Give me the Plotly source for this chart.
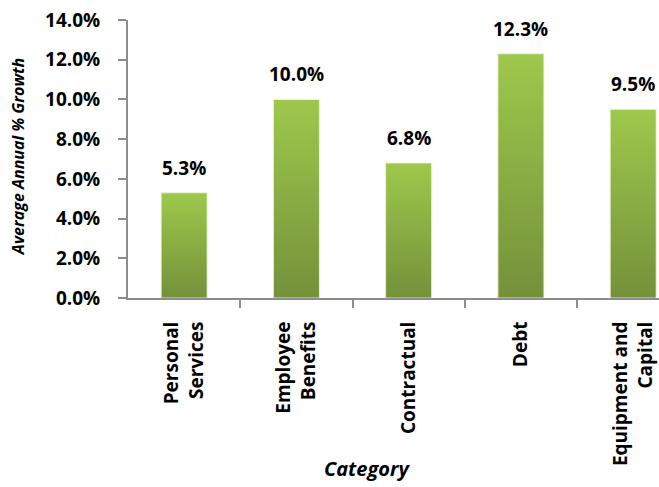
import plotly.graph_objects as go

# Average annual growth by spending category (percent)
categories = ["Personal<br>Services", "Employee<br>Benefits", "Contractual", "Debt", "Equipment and<br>Capital"]
growth = [5.3, 10.0, 6.8, 12.3, 9.5]
y_ticks = [0, 2, 4, 6, 8, 10, 12, 14]

FONT = "Open Sans"
BAR_TOP = "#9ec84c"
BAR_BOTTOM = "#74913a"
AXIS = "#8c8c8c"
HALF_W = 0.205

fig = go.Figure()

# One filled shape per bar so each gets its own vertical gradient
for i, v in enumerate(growth):
    fig.add_trace(go.Scatter(
        x=[i - HALF_W, i - HALF_W, i + HALF_W, i + HALF_W, i - HALF_W],
        y=[0, v, v, 0, 0],
        mode="lines",
        fill="toself",
        fillgradient=dict(type="vertical", colorscale=[[0, BAR_BOTTOM], [1, BAR_TOP]]),
        line=dict(width=1, color="rgba(235,245,215,0.9)"),
        hoverinfo="skip",
        showlegend=False,
    ))

# Value labels above bars
for i, v in enumerate(growth):
    fig.add_annotation(
        x=i, y=v, xref="x", yref="y",
        text=f"{v:.1f}%", showarrow=False,
        yanchor="bottom", yshift=10,
        font=dict(family=FONT, size=19, color="black", weight="bold"),
    )

fig.add_annotation(
    text="Average Annual % Growth", textangle=-90,
    xref="paper", yref="paper", x=-0.207, y=0.507,
    xanchor="center", yanchor="middle", showarrow=False,
    font=dict(family=FONT, size=16, color="black", weight="bold", style="italic"),
)
fig.add_annotation(
    text="Category",
    xref="paper", yref="paper", x=0.45, y=-0.615,
    xanchor="center", yanchor="middle", showarrow=False,
    font=dict(family=FONT, size=20, color="black", weight="bold", style="italic"),
)

fig.update_xaxes(
    range=[-0.5, 4.23],
    tickmode="array",
    tickvals=list(range(len(categories))),
    ticktext=categories,
    tickangle=-90,
    ticks="",
    ticklabelstandoff=14,
    tickfont=dict(family=FONT, size=19, color="black", weight="bold"),
    showline=True, linecolor=AXIS, linewidth=2,
    showgrid=False, zeroline=False,
    minor=dict(tickvals=[0.5, 1.5, 2.5, 3.5], ticks="outside", ticklen=8,
               tickwidth=2, tickcolor=AXIS, showgrid=False),
)
fig.update_yaxes(
    range=[0, 14],
    tickmode="array",
    tickvals=y_ticks,
    ticktext=[f"{t:.1f}%" for t in y_ticks],
    ticks="outside", ticklen=8, tickwidth=2, tickcolor=AXIS,
    ticklabelstandoff=14,
    tickfont=dict(family=FONT, size=19, color="black", weight="bold"),
    showline=True, linecolor=AXIS, linewidth=2,
    showgrid=False, zeroline=False,
)

fig.update_layout(
    width=659, height=487, autosize=False,
    margin=dict(l=128, r=0, t=20, b=189),
    paper_bgcolor="white", plot_bgcolor="white",
    showlegend=False,
)

fig.write_html("out.html")
